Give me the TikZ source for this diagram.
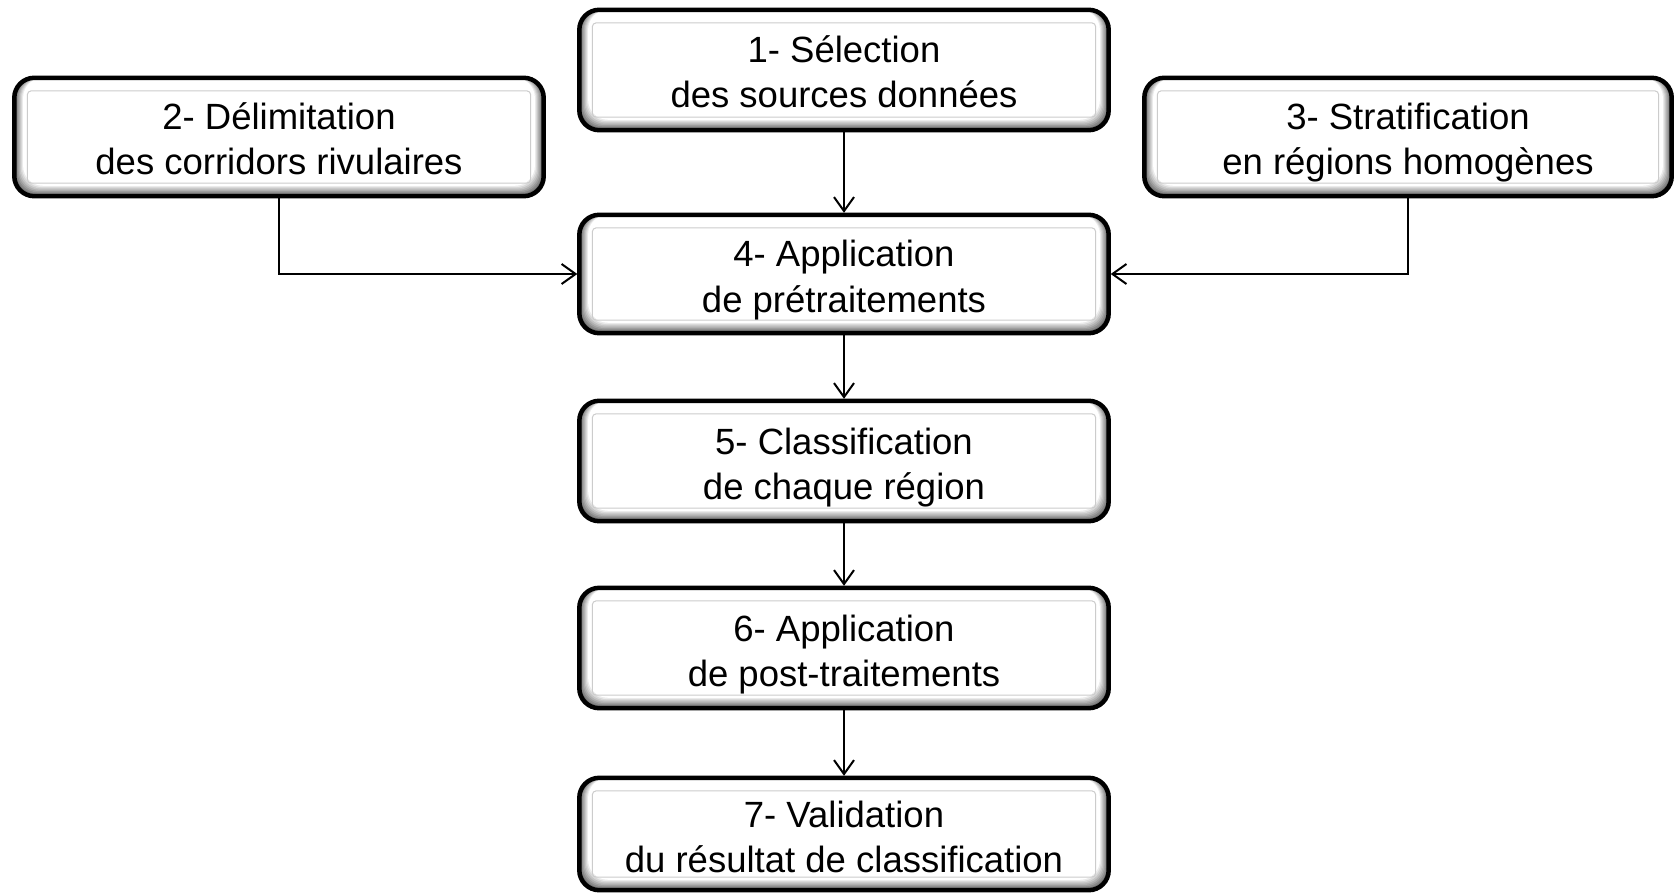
\documentclass[tikz,border=0pt]{standalone}
\usepackage{fontspec}
\setmainfont{Liberation Sans}
\usetikzlibrary{arrows.meta}
\pgfdeclarelayer{background}
\pgfsetlayers{background,main}

\tikzset{
  stepbox/.style={minimum width=529pt, minimum height=120pt, inner sep=0pt,
    align=center, font=\fontsize{36.5}{45}\selectfont,
    % fixed line box so every label sits at the same height
    execute at begin node={\rule{0pt}{84pt}},
    execute at end node={\rule[-8pt]{0pt}{0pt}}},
  link/.style={line width=2pt, -{Straight Barb[length=14pt,width=20pt]}, shorten >=2pt},
  frameline/.style={line width=4.5pt, rounded corners=20pt},
  innerline/.style={draw=gray!40, line width=1pt, rounded corners=4pt},
}

% thick rounded frame with a soft inner bevel and a thin inner rectangle
\newcommand\bevelframe[1]{%
  \foreach \k in {1,...,8}{%
    \pgfmathsetmacro\shadeval{max(0,62-7.75*\k)}%
    \fill[black!\shadeval, rounded corners=20pt]
      ([xshift=\k*1.1pt]#1.north west) rectangle
      ([xshift=-\k*1.1pt, yshift=\k*1.3pt]#1.south east);
  }%
  \draw[frameline] (#1.north west) rectangle (#1.south east);
  \draw[innerline] ([shift={(13pt,-13pt)}]#1.north west) rectangle
                   ([shift={(-13pt,13pt)}]#1.south east);
}

\begin{document}
\begin{tikzpicture}[x=1pt, y=-1pt]
  \useasboundingbox (0,0) rectangle (1675,893);

  % steps
  \node[stepbox] (s1) at (844,70)  {1- Sélection\\des sources données};
  \node[stepbox, minimum width=529pt, minimum height=118pt] (s2) at (279,137)
        {2- Délimitation\\des corridors rivulaires};
  \node[stepbox, minimum width=527pt, minimum height=118pt] (s3) at (1408,137)
        {3- Stratification\\en régions homogènes};
  \node[stepbox, minimum height=118pt] (s4) at (844,274) {4- Application\\de prétraitements};
  \node[stepbox] (s5) at (844,461) {5- Classification\\de chaque région};
  \node[stepbox] (s6) at (844,648) {6- Application\\de post-traitements};
  \node[stepbox, minimum height=112pt] (s7) at (844,834) {7- Validation\\du résultat de classification};

  \begin{pgfonlayer}{background}
    \foreach \n in {s1,s2,s3,s4,s5,s6,s7}{\bevelframe{\n}}
  \end{pgfonlayer}

  % connectors
  \draw[link] (s1.south) -- (s4.north);
  \draw[link] (s2.south) |- (s4.west);
  \draw[link] (s3.south) |- (s4.east);
  \draw[link] (s4.south) -- (s5.north);
  \draw[link] (s5.south) -- (s6.north);
  \draw[link] (s6.south) -- (s7.north);
\end{tikzpicture}
\end{document}
